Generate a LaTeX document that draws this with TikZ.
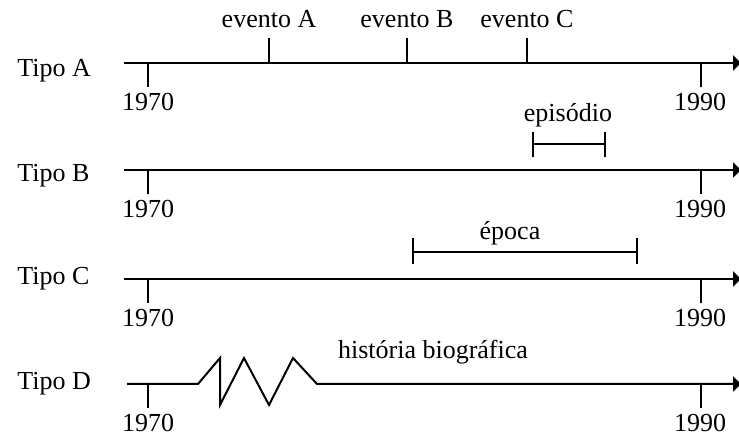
\documentclass[tikz,border=0pt]{standalone}
\usepackage{fontspec}
\setmainfont{Liberation Serif}
\usetikzlibrary{arrows.meta}

\tikzset{
  linha/.style={line width=1pt,-{Triangle[length=4pt,width=7.5pt]}},
  marca/.style={line width=1pt},
  rotulo/.style={anchor=base,inner sep=0pt,font=\fontsize{13}{15}\selectfont},
  tipo/.style={rotulo,anchor=base west}
}

\begin{document}
\begin{tikzpicture}[x=0.5pt,y=-0.5pt]
  \useasboundingbox (0,0) rectangle (739,437);
  % the four time lines
  \node[tipo] (tipoA) at (17,77) {Tipo A};
  \node[tipo] (tipoB) at (17,182) {Tipo B};
  \node[tipo] (tipoC) at (17,285) {Tipo C};
  \node[tipo] (tipoD) at (17,390) {Tipo D};
  \coordinate (iniA) at (124,63);  \coordinate (fimA) at (741,63);
  \coordinate (iniB) at (124,170); \coordinate (fimB) at (741,170);
  \coordinate (iniC) at (124,279); \coordinate (fimC) at (741,279);
  \coordinate (iniD) at (127,384); \coordinate (fimD) at (741,384);
  \draw[linha] (iniA) -- (fimA);
  \draw[linha] (iniB) -- (fimB);
  \draw[linha] (iniC) -- (fimC);
  \draw[linha,line join=miter] (iniD) -- (198,384) -- (220,358) -- (220,405)
    -- (244,358) -- (269,405) -- (293,358) -- (317,384) -- (fimD);
  % years
  \foreach \r/\y in {A/63,B/170,C/279,D/384}{
    \draw[marca] (148,\y) -- (148,\y+24);
    \draw[marca] (701,\y) -- (701,\y+24);
    \node[rotulo] (ini\r txt) at (148,\y+48) {1970};
    \node[rotulo] (fim\r txt) at (700,\y+48) {1990};
  }
  % Tipo A: events
  \foreach \n/\x in {A/269,B/407,C/527}{
    \coordinate (ev\n) at (\x,38);
    \draw[marca] (ev\n) -- (\x,63);
    \node[rotulo] (ev\n txt) at (\x,28) {evento \n};
  }
  % Tipo B: episode
  \coordinate (epi1) at (533,144); \coordinate (epi2) at (605,144);
  \draw[marca] (epi1) -- (epi2);
  \draw[marca] (533,132) -- (533,157);
  \draw[marca] (605,132) -- (605,157);
  \node[rotulo] (epitxt) at (568,122) {episódio};
  % Tipo C: epoch
  \coordinate (epo1) at (413,252); \coordinate (epo2) at (637,252);
  \draw[marca] (epo1) -- (epo2);
  \draw[marca] (413,238) -- (413,264);
  \draw[marca] (637,238) -- (637,264);
  \node[rotulo] (epotxt) at (510,240) {época};
  % Tipo D
  \node[rotulo] (histtxt) at (433,359) {história biográfica};
\end{tikzpicture}
\end{document}
